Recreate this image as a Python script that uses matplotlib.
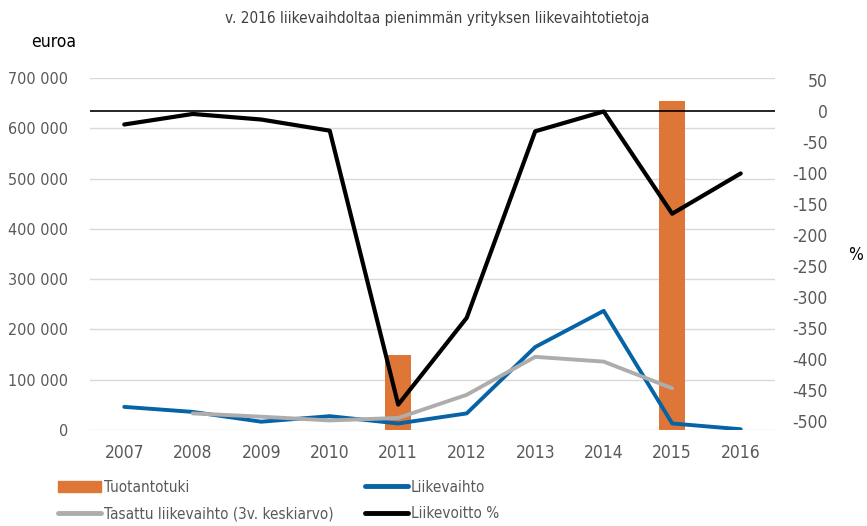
import matplotlib

matplotlib.use("Agg")
import matplotlib.pyplot as plt
from matplotlib.lines import Line2D
from matplotlib.patches import Patch
from matplotlib.ticker import FuncFormatter

plt.rcParams["font.family"] = ["DejaVu Sans"]
plt.rcParams["font.stretch"] = "condensed"
plt.rcParams["axes.unicode_minus"] = False

YEARS = ["2007", "2008", "2009", "2010", "2011", "2012", "2013", "2014", "2015", "2016"]
TUOTANTOTUKI = [0, 0, 0, 0, 150000, 0, 0, 0, 654000, 0]
LIIKEVAIHTO = [46000, 36000, 16500, 27500, 13000, 33000, 165000, 237000, 13000, 1500]
TASATTU = [None, 33000, 26500, 19000, 24000, 70000, 145500, 136000, 83000, None]
LIIKEVOITTO = [-21, -4, -13, -31, -473, -333, -32, 0, -165, -100]
PCT_TICKS = list(range(-500, 51, 50))

ORANGE = "#de7638"
BLUE = "#0563a6"
GREY = "#adadad"
TEXT = "#595959"

fig = plt.figure(figsize=(8.67, 5.26), dpi=100)
ax = fig.add_axes([0.1038, 0.1825, 0.790, 0.6692])
ax2 = ax.twinx()

x = list(range(len(YEARS)))
bar_x = [i for i, v in zip(x, TUOTANTOTUKI) if v]
bar_h = [v for v in TUOTANTOTUKI if v]
ax.bar(bar_x, bar_h, width=0.38, color=ORANGE, zorder=2)
ax.plot(x, LIIKEVAIHTO, color=BLUE, lw=2.8, solid_capstyle="round", zorder=3)
tx = [i for i, v in zip(x, TASATTU) if v is not None]
ty = [v for v in TASATTU if v is not None]
ax.plot(tx, ty, color=GREY, lw=2.8, solid_capstyle="round", zorder=4)

ax2.axhline(0, color="black", lw=1.2, zorder=1)
ax2.plot(x, LIIKEVOITTO, color="black", lw=3.0, solid_capstyle="round", zorder=5)

ax.set_xlim(-0.5, 9.5)
ax.set_ylim(0, 700000)
ax.set_yticks(range(0, 700001, 100000))
ax.yaxis.set_major_formatter(FuncFormatter(lambda v, p: f"{int(v):,}".replace(",", " ")))
ax.set_xticks(x)
ax.set_xticklabels(YEARS)
ax.grid(axis="y", color="#d9d9d9", lw=1.0, zorder=0)
ax.set_axisbelow(True)

ax2.set_ylim(-514, 54)
ax2.set_yticks(PCT_TICKS)
ax2.set_yticklabels([])
for v in PCT_TICKS:
    ax2.text(1.0774, v, str(v), transform=ax2.get_yaxis_transform(), ha="right",
             va="center_baseline", fontsize=12.5, color=TEXT, clip_on=False)

for a in (ax, ax2):
    for s in a.spines.values():
        s.set_visible(False)
    a.tick_params(length=0, colors=TEXT, labelsize=12.5)
ax.tick_params(axis="x", pad=10)
ax.tick_params(axis="y", pad=16, labelsize=11.5)

fig.text(0.504, 0.965, "v. 2016 liikevaihdoltaa pienimmän yrityksen liikevaihtotietoja",
         ha="center", va="center", fontsize=11, color="#404040")
fig.text(0.062, 0.92, "euroa", ha="center", va="center", fontsize=12.5, color="black")
fig.text(0.987, 0.515, "%", ha="center", va="center", fontsize=12.5, color="black")

legend_kw = dict(loc="upper left", frameon=False, fontsize=11, handlelength=2.8,
                 handletextpad=0.2, labelspacing=0.75, labelcolor=TEXT, borderpad=0,
                 borderaxespad=0)
leg1 = fig.legend(
    [Patch(color=ORANGE), Line2D([], [], color=GREY, lw=3.5, solid_capstyle="round")],
    ["Tuotantotuki", "Tasattu liikevaihto (3v. keskiarvo)"],
    bbox_to_anchor=(0.067, 0.088), **legend_kw)
leg2 = fig.legend(
    [Line2D([], [], color=BLUE, lw=3.5, solid_capstyle="round"),
     Line2D([], [], color="black", lw=3.5, solid_capstyle="round")],
    ["Liikevaihto", "Liikevoitto %"],
    bbox_to_anchor=(0.421, 0.088), **legend_kw)

fig.savefig("out.png", dpi=100)
